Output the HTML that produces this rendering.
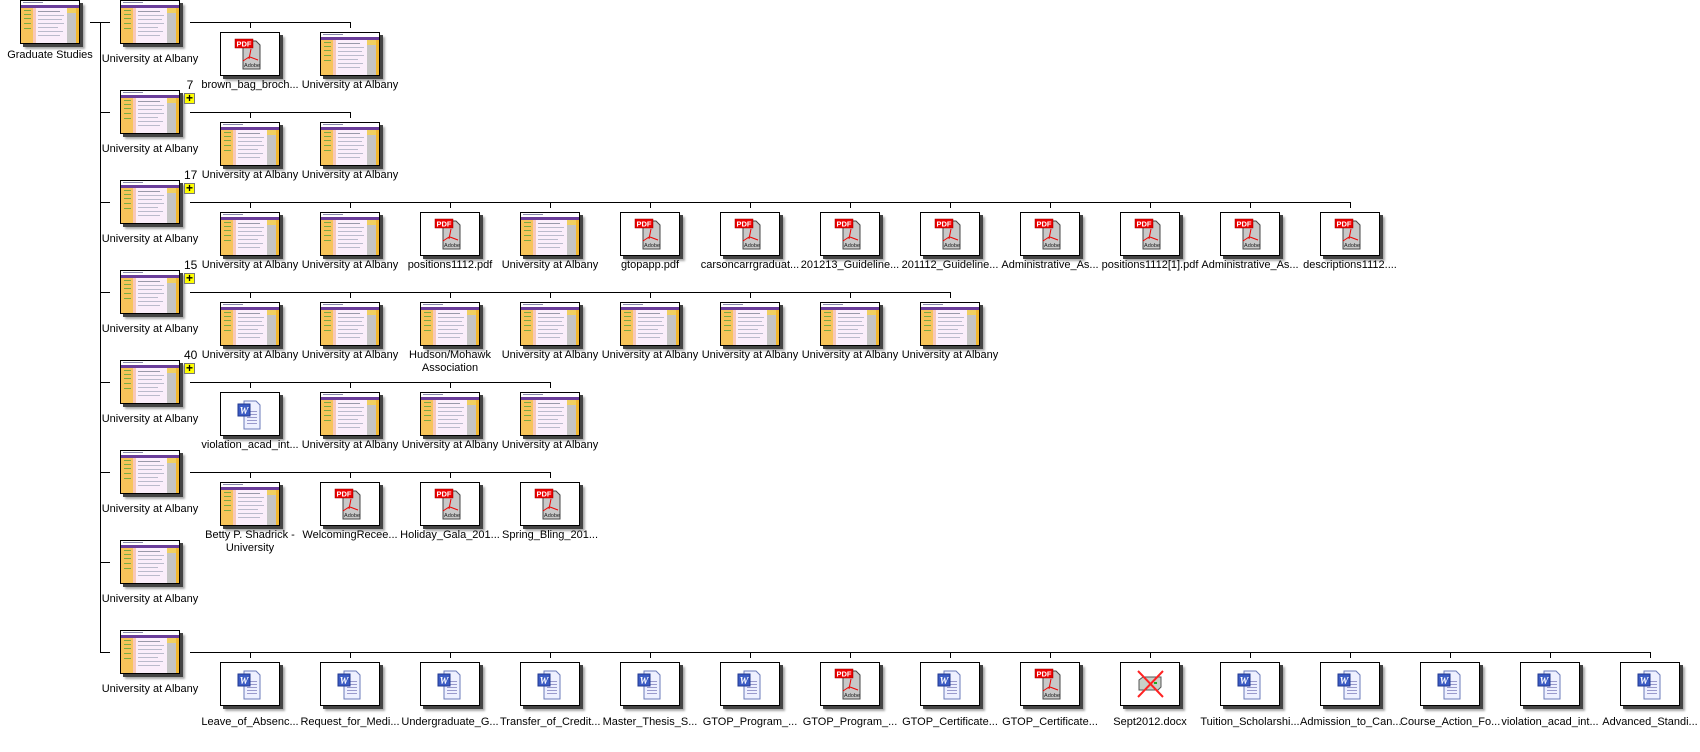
<!DOCTYPE html>
<html><head><meta charset="utf-8"><style>
body{margin:0;width:1700px;height:752px;background:#fff;position:relative;overflow:hidden;font-family:"Liberation Sans",sans-serif;}
.b{position:absolute;width:58px;height:42px;border:1px solid #000;background:#fff;box-shadow:3px 3px 0 #444,5px 5px 2px #aaa;}
.b svg{display:block;width:58px;height:42px}
.l{position:absolute;width:100px;text-align:center;font-size:11px;line-height:13px;color:#000;white-space:nowrap}
.h{position:absolute;height:1px;background:#000}
.v{position:absolute;width:1px;background:#000}
.n{position:absolute;font-size:12px;line-height:12px;width:12px;text-align:center}
.p{position:absolute;width:9px;height:9px;border:1px solid #777;background:#ff0;font:bold 12px/9px "Liberation Sans",sans-serif;text-align:center}
</style></head><body>
<svg width="0" height="0" style="position:absolute">
<defs>
<symbol id="w" viewBox="0 0 58 42">
<rect width="58" height="42" fill="#fbeefb"/>
<rect width="58" height="4" fill="#fff"/><rect x="2" y="1" width="20" height="1" fill="#88a"/>
<rect y="4" width="58" height="3" fill="#6a3d9a"/>
<rect y="7" width="12" height="35" fill="#f7c45a"/>
<rect x="3" y="9" width="7" height="1" fill="#7a4"/><rect x="3" y="13" width="7" height="1" fill="#7a4"/><rect x="3" y="17" width="7" height="1" fill="#7a4"/><rect x="3" y="22" width="7" height="1" fill="#7a4"/><rect x="3" y="27" width="7" height="1" fill="#7a4"/>
<rect x="12" y="7" width="3" height="35" fill="#f8c8b8"/>
<rect x="17" y="10" width="22" height="1" fill="#99a"/><rect x="17" y="14" width="26" height="1" fill="#bbc"/><rect x="17" y="18" width="24" height="1" fill="#bbc"/><rect x="17" y="22" width="26" height="1" fill="#bbc"/><rect x="17" y="26" width="20" height="1" fill="#bbc"/><rect x="17" y="30" width="25" height="1" fill="#bbc"/><rect x="17" y="34" width="22" height="1" fill="#bbc"/>
<rect x="46" y="7" width="9" height="35" fill="#c4c4c4"/><rect x="46" y="7" width="9" height="5" fill="#f0d060"/>
<rect x="55" y="7" width="3" height="35" fill="#f2b830"/>
</symbol>
<symbol id="pdf" viewBox="0 0 58 42">
<path d="M22 8h13l4 4v24h-17z" fill="#c8c8c8" stroke="#444"/>
<rect x="14" y="6" width="18" height="9" fill="#e00" stroke="#800" stroke-width=".5"/>
<text x="23" y="13.5" font-family="Liberation Sans" font-size="7.5" font-weight="bold" fill="#fff" text-anchor="middle">PDF</text>
<path d="M30 16l-2 10M28 24l-6 4M29 24l8 3" stroke="#e00" stroke-width="1" fill="none"/>
<text x="31" y="34" font-family="Liberation Sans" font-size="5.5" fill="#222" text-anchor="middle">Adobe</text>
</symbol>
<symbol id="wd" viewBox="0 0 58 42">
<path d="M23 8h12l4 4v24h-16z" fill="#eef0ff" stroke="#6a7ab8"/>
<rect x="26" y="18" width="10" height="1" fill="#99c"/><rect x="26" y="21" width="10" height="1" fill="#99c"/><rect x="26" y="24" width="10" height="1" fill="#99c"/><rect x="26" y="27" width="10" height="1" fill="#99c"/><rect x="26" y="30" width="10" height="1" fill="#99c"/>
<rect x="17" y="11" width="12" height="12" fill="#3b5bc4" stroke="#223a90"/>
<text x="23" y="21" font-family="Liberation Serif" font-size="10" font-weight="bold" font-style="italic" fill="#fff" text-anchor="middle">W</text>
</symbol>
<symbol id="x" viewBox="0 0 58 42">
<path d="M18 17l4-3h18v10l-3 3h-19z" fill="#c8d0c8" stroke="#555"/>
<rect x="33" y="19" width="3" height="2" fill="#2a2"/>
<path d="M17 8l25 26M42 8l-25 26" stroke="#f22" stroke-width="2"/>
</symbol>
</defs></svg>

<div class="b" style="left:20px;top:0"><svg><use href="#w"/></svg></div>
<div class="l" style="left:0;top:49px">Graduate Studies</div>
<div class="h" style="left:90px;top:22px;width:20px"></div>
<div class="v" style="left:100px;top:22px;height:631px"></div>

<div class="h" style="left:100px;top:112px;width:10px"></div>
<div class="h" style="left:100px;top:202px;width:10px"></div>
<div class="h" style="left:100px;top:292px;width:10px"></div>
<div class="h" style="left:100px;top:382px;width:10px"></div>
<div class="h" style="left:100px;top:472px;width:10px"></div>
<div class="h" style="left:100px;top:562px;width:10px"></div>
<div class="h" style="left:100px;top:652px;width:10px"></div>

<div class="b" style="left:120px;top:0"><svg><use href="#w"/></svg></div><div class="l" style="left:100px;top:53px">University at Albany</div>
<div class="b" style="left:120px;top:90px"><svg><use href="#w"/></svg></div><div class="l" style="left:100px;top:143px">University at Albany</div>
<div class="b" style="left:120px;top:180px"><svg><use href="#w"/></svg></div><div class="l" style="left:100px;top:233px">University at Albany</div>
<div class="b" style="left:120px;top:270px"><svg><use href="#w"/></svg></div><div class="l" style="left:100px;top:323px">University at Albany</div>
<div class="b" style="left:120px;top:360px"><svg><use href="#w"/></svg></div><div class="l" style="left:100px;top:413px">University at Albany</div>
<div class="b" style="left:120px;top:450px"><svg><use href="#w"/></svg></div><div class="l" style="left:100px;top:503px">University at Albany</div>
<div class="b" style="left:120px;top:540px"><svg><use href="#w"/></svg></div><div class="l" style="left:100px;top:593px">University at Albany</div>
<div class="b" style="left:120px;top:630px"><svg><use href="#w"/></svg></div><div class="l" style="left:100px;top:683px">University at Albany</div>

<div class="n" style="left:184px;top:79px">7</div><div class="p" style="left:184px;top:93px">+</div>
<div class="n" style="left:184px;top:169px">17</div><div class="p" style="left:184px;top:183px">+</div>
<div class="n" style="left:184px;top:259px">15</div><div class="p" style="left:184px;top:273px">+</div>
<div class="n" style="left:184px;top:349px">40</div><div class="p" style="left:184px;top:363px">+</div>

<div class="h" style="left:190px;top:22px;width:161px"></div>
<div class="v" style="left:250px;top:22px;height:6px"></div><div class="v" style="left:350px;top:22px;height:6px"></div>
<div class="b" style="left:220px;top:32px"><svg><use href="#pdf"/></svg></div><div class="l" style="left:200px;top:79px">brown_bag_broch...</div>
<div class="b" style="left:320px;top:32px"><svg><use href="#w"/></svg></div><div class="l" style="left:300px;top:79px">University at Albany</div>

<div class="h" style="left:190px;top:112px;width:161px"></div>
<div class="v" style="left:250px;top:112px;height:6px"></div><div class="v" style="left:350px;top:112px;height:6px"></div>
<div class="b" style="left:220px;top:122px"><svg><use href="#w"/></svg></div><div class="l" style="left:200px;top:169px">University at Albany</div>
<div class="b" style="left:320px;top:122px"><svg><use href="#w"/></svg></div><div class="l" style="left:300px;top:169px">University at Albany</div>

<div class="h" style="left:190px;top:202px;width:1161px"></div>
<div class="v" style="left:250px;top:202px;height:6px"></div><div class="v" style="left:350px;top:202px;height:6px"></div><div class="v" style="left:450px;top:202px;height:6px"></div><div class="v" style="left:550px;top:202px;height:6px"></div><div class="v" style="left:650px;top:202px;height:6px"></div><div class="v" style="left:750px;top:202px;height:6px"></div><div class="v" style="left:850px;top:202px;height:6px"></div><div class="v" style="left:950px;top:202px;height:6px"></div><div class="v" style="left:1050px;top:202px;height:6px"></div><div class="v" style="left:1150px;top:202px;height:6px"></div><div class="v" style="left:1250px;top:202px;height:6px"></div><div class="v" style="left:1350px;top:202px;height:6px"></div>
<div class="b" style="left:220px;top:212px"><svg><use href="#w"/></svg></div><div class="l" style="left:200px;top:259px">University at Albany</div>
<div class="b" style="left:320px;top:212px"><svg><use href="#w"/></svg></div><div class="l" style="left:300px;top:259px">University at Albany</div>
<div class="b" style="left:420px;top:212px"><svg><use href="#pdf"/></svg></div><div class="l" style="left:400px;top:259px">positions1112.pdf</div>
<div class="b" style="left:520px;top:212px"><svg><use href="#w"/></svg></div><div class="l" style="left:500px;top:259px">University at Albany</div>
<div class="b" style="left:620px;top:212px"><svg><use href="#pdf"/></svg></div><div class="l" style="left:600px;top:259px">gtopapp.pdf</div>
<div class="b" style="left:720px;top:212px"><svg><use href="#pdf"/></svg></div><div class="l" style="left:700px;top:259px">carsoncarrgraduat...</div>
<div class="b" style="left:820px;top:212px"><svg><use href="#pdf"/></svg></div><div class="l" style="left:800px;top:259px">201213_Guideline...</div>
<div class="b" style="left:920px;top:212px"><svg><use href="#pdf"/></svg></div><div class="l" style="left:900px;top:259px">201112_Guideline...</div>
<div class="b" style="left:1020px;top:212px"><svg><use href="#pdf"/></svg></div><div class="l" style="left:1000px;top:259px">Administrative_As...</div>
<div class="b" style="left:1120px;top:212px"><svg><use href="#pdf"/></svg></div><div class="l" style="left:1100px;top:259px">positions1112[1].pdf</div>
<div class="b" style="left:1220px;top:212px"><svg><use href="#pdf"/></svg></div><div class="l" style="left:1200px;top:259px">Administrative_As...</div>
<div class="b" style="left:1320px;top:212px"><svg><use href="#pdf"/></svg></div><div class="l" style="left:1300px;top:259px">descriptions1112....</div>

<div class="h" style="left:190px;top:292px;width:761px"></div>
<div class="v" style="left:250px;top:292px;height:6px"></div><div class="v" style="left:350px;top:292px;height:6px"></div><div class="v" style="left:450px;top:292px;height:6px"></div><div class="v" style="left:550px;top:292px;height:6px"></div><div class="v" style="left:650px;top:292px;height:6px"></div><div class="v" style="left:750px;top:292px;height:6px"></div><div class="v" style="left:850px;top:292px;height:6px"></div><div class="v" style="left:950px;top:292px;height:6px"></div>
<div class="b" style="left:220px;top:302px"><svg><use href="#w"/></svg></div><div class="l" style="left:200px;top:349px">University at Albany</div>
<div class="b" style="left:320px;top:302px"><svg><use href="#w"/></svg></div><div class="l" style="left:300px;top:349px">University at Albany</div>
<div class="b" style="left:420px;top:302px"><svg><use href="#w"/></svg></div><div class="l" style="left:400px;top:349px">Hudson/Mohawk<br>Association</div>
<div class="b" style="left:520px;top:302px"><svg><use href="#w"/></svg></div><div class="l" style="left:500px;top:349px">University at Albany</div>
<div class="b" style="left:620px;top:302px"><svg><use href="#w"/></svg></div><div class="l" style="left:600px;top:349px">University at Albany</div>
<div class="b" style="left:720px;top:302px"><svg><use href="#w"/></svg></div><div class="l" style="left:700px;top:349px">University at Albany</div>
<div class="b" style="left:820px;top:302px"><svg><use href="#w"/></svg></div><div class="l" style="left:800px;top:349px">University at Albany</div>
<div class="b" style="left:920px;top:302px"><svg><use href="#w"/></svg></div><div class="l" style="left:900px;top:349px">University at Albany</div>

<div class="h" style="left:190px;top:382px;width:361px"></div>
<div class="v" style="left:250px;top:382px;height:6px"></div><div class="v" style="left:350px;top:382px;height:6px"></div><div class="v" style="left:450px;top:382px;height:6px"></div><div class="v" style="left:550px;top:382px;height:6px"></div>
<div class="b" style="left:220px;top:392px"><svg><use href="#wd"/></svg></div><div class="l" style="left:200px;top:439px">violation_acad_int...</div>
<div class="b" style="left:320px;top:392px"><svg><use href="#w"/></svg></div><div class="l" style="left:300px;top:439px">University at Albany</div>
<div class="b" style="left:420px;top:392px"><svg><use href="#w"/></svg></div><div class="l" style="left:400px;top:439px">University at Albany</div>
<div class="b" style="left:520px;top:392px"><svg><use href="#w"/></svg></div><div class="l" style="left:500px;top:439px">University at Albany</div>

<div class="h" style="left:190px;top:472px;width:361px"></div>
<div class="v" style="left:250px;top:472px;height:6px"></div><div class="v" style="left:350px;top:472px;height:6px"></div><div class="v" style="left:450px;top:472px;height:6px"></div><div class="v" style="left:550px;top:472px;height:6px"></div>
<div class="b" style="left:220px;top:482px"><svg><use href="#w"/></svg></div><div class="l" style="left:200px;top:529px">Betty P. Shadrick -<br>University</div>
<div class="b" style="left:320px;top:482px"><svg><use href="#pdf"/></svg></div><div class="l" style="left:300px;top:529px">WelcomingRecee...</div>
<div class="b" style="left:420px;top:482px"><svg><use href="#pdf"/></svg></div><div class="l" style="left:400px;top:529px">Holiday_Gala_201...</div>
<div class="b" style="left:520px;top:482px"><svg><use href="#pdf"/></svg></div><div class="l" style="left:500px;top:529px">Spring_Bling_201...</div>

<div class="h" style="left:190px;top:652px;width:1461px"></div>
<div class="v" style="left:250px;top:652px;height:6px"></div><div class="v" style="left:350px;top:652px;height:6px"></div><div class="v" style="left:450px;top:652px;height:6px"></div><div class="v" style="left:550px;top:652px;height:6px"></div><div class="v" style="left:650px;top:652px;height:6px"></div><div class="v" style="left:750px;top:652px;height:6px"></div><div class="v" style="left:850px;top:652px;height:6px"></div><div class="v" style="left:950px;top:652px;height:6px"></div><div class="v" style="left:1050px;top:652px;height:6px"></div><div class="v" style="left:1150px;top:652px;height:6px"></div><div class="v" style="left:1250px;top:652px;height:6px"></div><div class="v" style="left:1350px;top:652px;height:6px"></div><div class="v" style="left:1450px;top:652px;height:6px"></div><div class="v" style="left:1550px;top:652px;height:6px"></div><div class="v" style="left:1650px;top:652px;height:6px"></div>
<div class="b" style="left:220px;top:662px"><svg><use href="#wd"/></svg></div><div class="l" style="left:200px;top:716px">Leave_of_Absenc...</div>
<div class="b" style="left:320px;top:662px"><svg><use href="#wd"/></svg></div><div class="l" style="left:300px;top:716px">Request_for_Medi...</div>
<div class="b" style="left:420px;top:662px"><svg><use href="#wd"/></svg></div><div class="l" style="left:400px;top:716px">Undergraduate_G...</div>
<div class="b" style="left:520px;top:662px"><svg><use href="#wd"/></svg></div><div class="l" style="left:500px;top:716px">Transfer_of_Credit...</div>
<div class="b" style="left:620px;top:662px"><svg><use href="#wd"/></svg></div><div class="l" style="left:600px;top:716px">Master_Thesis_S...</div>
<div class="b" style="left:720px;top:662px"><svg><use href="#wd"/></svg></div><div class="l" style="left:700px;top:716px">GTOP_Program_...</div>
<div class="b" style="left:820px;top:662px"><svg><use href="#pdf"/></svg></div><div class="l" style="left:800px;top:716px">GTOP_Program_...</div>
<div class="b" style="left:920px;top:662px"><svg><use href="#wd"/></svg></div><div class="l" style="left:900px;top:716px">GTOP_Certificate...</div>
<div class="b" style="left:1020px;top:662px"><svg><use href="#pdf"/></svg></div><div class="l" style="left:1000px;top:716px">GTOP_Certificate...</div>
<div class="b" style="left:1120px;top:662px"><svg><use href="#x"/></svg></div><div class="l" style="left:1100px;top:716px">Sept2012.docx</div>
<div class="b" style="left:1220px;top:662px"><svg><use href="#wd"/></svg></div><div class="l" style="left:1200px;top:716px">Tuition_Scholarshi...</div>
<div class="b" style="left:1320px;top:662px"><svg><use href="#wd"/></svg></div><div class="l" style="left:1300px;top:716px">Admission_to_Can...</div>
<div class="b" style="left:1420px;top:662px"><svg><use href="#wd"/></svg></div><div class="l" style="left:1400px;top:716px">Course_Action_Fo...</div>
<div class="b" style="left:1520px;top:662px"><svg><use href="#wd"/></svg></div><div class="l" style="left:1500px;top:716px">violation_acad_int...</div>
<div class="b" style="left:1620px;top:662px"><svg><use href="#wd"/></svg></div><div class="l" style="left:1600px;top:716px">Advanced_Standi...</div>
</body></html>
